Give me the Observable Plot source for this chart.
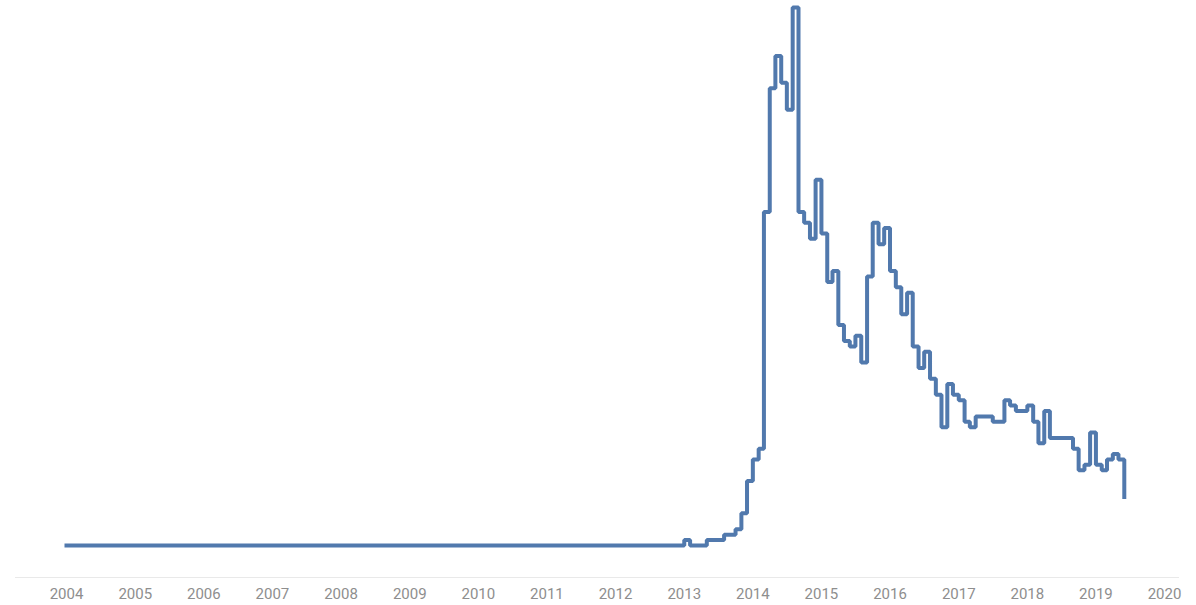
<!DOCTYPE html>
<html>
<head>
<meta charset="utf-8">
<script src="https://cdn.jsdelivr.net/npm/d3@7"></script>
<script src="https://cdn.jsdelivr.net/npm/@observablehq/plot@0.6"></script>
<style>
  html, body { margin: 0; padding: 0; background: #fff; }
  #chart svg { display: block; }
</style>
</head>
<body>
<div id="chart"></div>
<script>
// First month of the series
const startMonth = "2004-01";

// Monthly values (relative interest, 0–100), one row per year
const values = [
  0,0,0,0,0,0,0,0,0,0,0,0,        // 2004
  0,0,0,0,0,0,0,0,0,0,0,0,        // 2005
  0,0,0,0,0,0,0,0,0,0,0,0,        // 2006
  0,0,0,0,0,0,0,0,0,0,0,0,        // 2007
  0,0,0,0,0,0,0,0,0,0,0,0,        // 2008
  0,0,0,0,0,0,0,0,0,0,0,0,        // 2009
  0,0,0,0,0,0,0,0,0,0,0,0,        // 2010
  0,0,0,0,0,0,0,0,0,0,0,0,        // 2011
  0,0,0,0,0,0,0,0,0,0,0,0,        // 2012
  1,0,0,0,1,1,1,2,2,3,6,12,       // 2013
  16,18,62,85,91,86,81,100,62,60,57,68, // 2014
  58,49,51,41,38,37,39,34,50,60,56,59,  // 2015
  51,48,43,47,37,33,36,31,28,22,30,28,  // 2016
  27,23,22,24,24,24,23,23,27,26,25,25,  // 2017
  26,23,19,25,20,20,20,20,18,14,15,21,  // 2018
  15,14,16,17,16,9                       // 2019
];

// Year tick labels
const tickYears = [2004,2005,2006,2007,2008,2009,2010,2011,2012,2013,2014,2015,2016,2017,2018,2019,2020];

const start = new Date(startMonth + "-01T00:00:00Z");
const data = values.map((v, i) => ({
  date: d3.utcMonth.offset(start, i),
  value: v
}));
const ticks = tickYears.map(y => new Date(Date.UTC(y, 0, 1)));

const chart = Plot.plot({
  width: 1196,
  height: 605,
  marginLeft: 15,
  marginRight: 18,
  marginTop: 0,
  marginBottom: 28,
  style: { fontFamily: "Roboto, 'Open Sans', sans-serif", background: "#fff" },
  x: { type: "utc", domain: [ticks[0], ticks[ticks.length - 1]], range: [66, 1164] },
  y: { domain: [0, 100], range: [545, 7], axis: null },
  marks: [
    Plot.frame({ anchor: "bottom", stroke: "#e9e9e9", strokeWidth: 1 }),
    Plot.axisX({
      ticks: ticks,
      tickSize: 0,
      tickPadding: 11,
      tickFormat: d3.utcFormat("%Y"),
      fontSize: 15,
      fill: "#8e8e8e",
      label: null
    }),
    Plot.lineY(data, {
      x: "date",
      y: "value",
      curve: "step-after",
      stroke: "#5179ad",
      strokeWidth: 4,
      strokeLinejoin: "miter",
      strokeLinecap: "square"
    })
  ]
});

document.getElementById("chart").appendChild(chart);
</script>
</body>
</html>
